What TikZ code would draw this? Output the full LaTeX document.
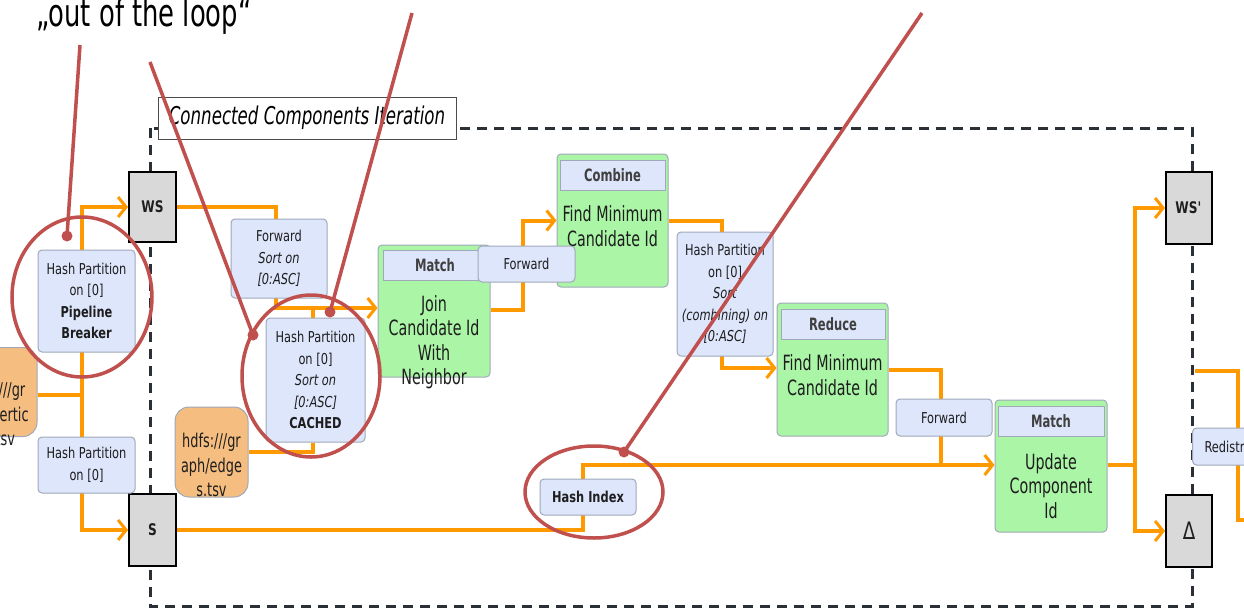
\documentclass[tikz,border=0pt]{standalone}
\usepackage{fontspec}
\setmainfont{DejaVu Sans}[FakeStretch=0.76]
\newfontfamily\condfont{DejaVu Sans}[FakeStretch=0.68]
\newfontfamily\titlefont{DejaVu Sans}[FakeStretch=0.68]
\usetikzlibrary{arrows.meta,calc}
\pgfdeclarelayer{bg}\pgfsetlayers{bg,main}
\definecolor{flowc}{RGB}{255,153,0}
\definecolor{boxblue}{RGB}{222,230,252}
\definecolor{boxline}{RGB}{160,168,185}
\definecolor{opgreen}{RGB}{170,245,166}
\definecolor{srcorange}{RGB}{245,190,128}
\definecolor{gbox}{RGB}{217,217,217}
\definecolor{annot}{RGB}{192,80,77}
\definecolor{framec}{RGB}{43,47,54}
\definecolor{txt}{RGB}{30,30,30}
\tikzset{
  flow/.style={draw=flowc, line width=4pt},
  arr/.style={-{Straight Barb[length=8pt,width=20pt,line width=3pt]}},
  small/.style={draw=boxline, fill=boxblue, line width=1pt, rounded corners=4pt, align=center, inner sep=0pt, text=txt, font=\fontsize{15}{21.5}\selectfont},
  hdr/.style={draw=boxline, fill=boxblue, line width=1pt, inner sep=0pt, text=txt!85, font=\condfont\bfseries\fontsize{17}{20}\selectfont},
  op/.style={draw=boxline, fill=opgreen, line width=1pt, rounded corners=4pt, inner sep=0pt},
  optext/.style={align=center, inner sep=0pt, text=txt, font=\condfont\fontsize{21}{24.5}\selectfont},
  src/.style={draw=boxline, fill=srcorange, line width=1pt, rounded corners=14pt, inner sep=0pt},
  srctext/.style={align=center, inner sep=0pt, text=txt, font=\condfont\fontsize{19}{24.5}\selectfont},
  graybox/.style={draw=black, fill=gbox, line width=2pt, inner sep=0pt, text=txt, font=\bfseries\fontsize{16}{18}\selectfont},
  annotl/.style={draw=annot, line width=3.5pt},
  adot/.style={fill=annot, circle, inner sep=0pt, minimum size=11pt},
}
\begin{document}
\begin{tikzpicture}[x=1pt,y=-1pt]
\useasboundingbox (0,0) rectangle (1244,613);

% title
\node[anchor=base west, inner sep=0pt, font=\titlefont\fontsize{38}{40}\selectfont, text=black] (title) at (36,26) {„out of the loop“};

% iteration frame
\draw[framec, line width=3pt, dash pattern=on 10pt off 7pt] (150,128) rectangle (1192,606);
\node[draw=black!70, fill=white, line width=1pt, inner sep=0pt, minimum width=298pt, minimum height=42pt, font=\condfont\itshape\fontsize{24.5}{28}\selectfont, text=black] (iterlbl) at (307,118) {Connected Components Iteration};

% sources
\node[src, minimum width=82pt, minimum height=89pt] (vert) at (-4,392) {};
\node[srctext] (verttxt) at (-4,414) {hdfs:///gr\\aph/vertic\\es.tsv};
\node[src, minimum width=73pt, minimum height=90pt] (edges) at (211.5,452) {};
\node[srctext] (edgestxt) at (211.5,465) {hdfs:///gr\\aph/edge\\s.tsv};

% workset / solution set
\node[graybox, minimum width=47pt, minimum height=70pt] (ws) at (152.5,207) {WS};
\node[graybox, minimum width=47pt, minimum height=72pt] (s) at (152.5,530) {S};
\node[graybox, minimum width=46pt, minimum height=72pt] (wsp) at (1189,208) {WS\textquotesingle};
\node[graybox, minimum width=46pt, minimum height=72pt, font=\fontsize{24}{26}\selectfont] (delta) at (1189,531) {Δ};

% operators
\node[op, minimum width=112pt, minimum height=132pt] (join) at (434,311) {};
\node[hdr, minimum width=104pt, minimum height=30pt] (joinh) at (435,265) {Match};
\node[optext] (joint) at (434,342) {Join\\Candidate Id\\With\\Neighbor};

\node[op, minimum width=111pt, minimum height=133pt] (combine) at (612.5,220.5) {};
\node[hdr, minimum width=105pt, minimum height=30pt] (combineh) at (612.5,175) {Combine};
\node[optext] (combinet) at (612.5,226) {Find Minimum\\Candidate Id};

\node[op, minimum width=111pt, minimum height=133pt] (reduce) at (832.5,369.5) {};
\node[hdr, minimum width=104pt, minimum height=30pt] (reduceh) at (833,324) {Reduce};
\node[optext] (reducet) at (832.5,375) {Find Minimum\\Candidate Id};

\node[op, minimum width=112pt, minimum height=132pt] (update) at (1051,466) {};
\node[hdr, minimum width=106pt, minimum height=30pt] (updateh) at (1051,421) {Match};
\node[optext] (updatet) at (1051,486) {Update\\Component\\Id};

% ship strategy boxes
\node[small, minimum width=97pt, minimum height=102pt] (hp1) at (86.5,301) {Hash Partition\\on [0]\\\textbf{Pipeline}\\\textbf{Breaker}};
\node[small, minimum width=97pt, minimum height=56pt] (hp2) at (86.5,465) {Hash Partition\\on [0]};
\node[small, minimum width=96pt, minimum height=79pt] (fwd1) at (279,258.5) {Forward\\\textit{Sort on}\\\textit{[0:ASC]}};
\node[small, minimum width=99pt, minimum height=124pt] (cached) at (315.5,380) {Hash Partition\\on [0]\\\textit{Sort on}\\\textit{[0:ASC]}\\\textbf{CACHED}};
\node[small, minimum width=97pt, minimum height=36pt] (fwd2) at (526.5,264) {Forward};
\node[small, minimum width=96pt, minimum height=124pt] (hp3) at (725,294) {Hash Partition\\on [0]\\\textit{Sort}\\\textit{(combining) on}\\\textit{[0:ASC]}};
\node[small, minimum width=96pt, minimum height=37pt] (fwd3) at (944,417.5) {Forward};
\node[small, minimum width=96pt, minimum height=36pt] (hidx) at (588,497) {\textbf{Hash Index}};
\node[small, anchor=west, minimum width=100pt, minimum height=37pt, align=left, text width=88pt, inner xsep=12pt] (redis) at (1192,446.5) {Redistribute};

% connectors
\coordinate (vj) at (82,395);
\coordinate (j1) at (276,308);
\coordinate (cj) at (313,308);
\coordinate (m1) at (523,310);
\coordinate (r1) at (722,368);
\coordinate (u1) at (941,465);
\coordinate (h1) at (583,465);
\coordinate (o1) at (1135,465);
\coordinate (x1) at (1195,371);
\coordinate (x2) at (1238,520);
\coordinate (x3) at (1250,520);
\begin{pgfonlayer}{bg}
\fill[white] (0,0) rectangle (1244,613);
\draw[flow] (vert.east |- vj) -- (vj);
\draw[flow,arr] (vj) |- (ws.west);
\draw[flow,arr] (vj) |- (s.west);
\draw[flow,arr] (ws.east) -| (j1) -- (j1 -| join.west);
\draw[flow] (cj |- cached.north) -- (cj);
\draw[flow] (edges.east) -| (cj |- cached.south);
\draw[flow,arr] (m1 -| join.east) -- (m1) |- (combine.west);
\draw[flow,arr] (combine.east) -| (r1) -- (r1 -| reduce.west);
\draw[flow] (reduce.east) -| (u1);
\draw[flow] (s.east) -| (h1) -- (u1);
\draw[flow,arr] (u1) -- (u1 -| update.west);
\draw[flow] (o1 -| update.east) -- (o1);
\draw[flow,arr] (o1) |- (wsp.west);
\draw[flow,arr] (o1) |- (delta.west);
\draw[flow] (x1) -| (x2) -- (x3);
\end{pgfonlayer}

% annotations
\coordinate (a1s) at (80,45);  \coordinate (a1e) at (67,236);
\coordinate (a2s) at (150,62); \coordinate (a2e) at (253,335);
\coordinate (a3s) at (412,13); \coordinate (a3e) at (330,312);
\coordinate (a4s) at (922,13); \coordinate (a4e) at (624,452);
\draw[annotl] (82,297) ellipse [x radius=70pt, y radius=80pt];
\draw[annotl] (311,376) ellipse [x radius=69pt, y radius=81pt];
\draw[annotl] (594,492) ellipse [x radius=69pt, y radius=46pt];
\draw[annotl] (a1s) -- (a1e);
\draw[annotl] (a2s) -- (a2e);
\draw[annotl] (a3s) -- (a3e);
\draw[annotl] (a4s) -- (a4e);
\node[adot] (d1) at (a1e) {};
\node[adot] (d2) at (a2e) {};
\node[adot] (d3) at (a3e) {};
\node[adot] (d4) at (a4e) {};
\end{tikzpicture}
\end{document}
